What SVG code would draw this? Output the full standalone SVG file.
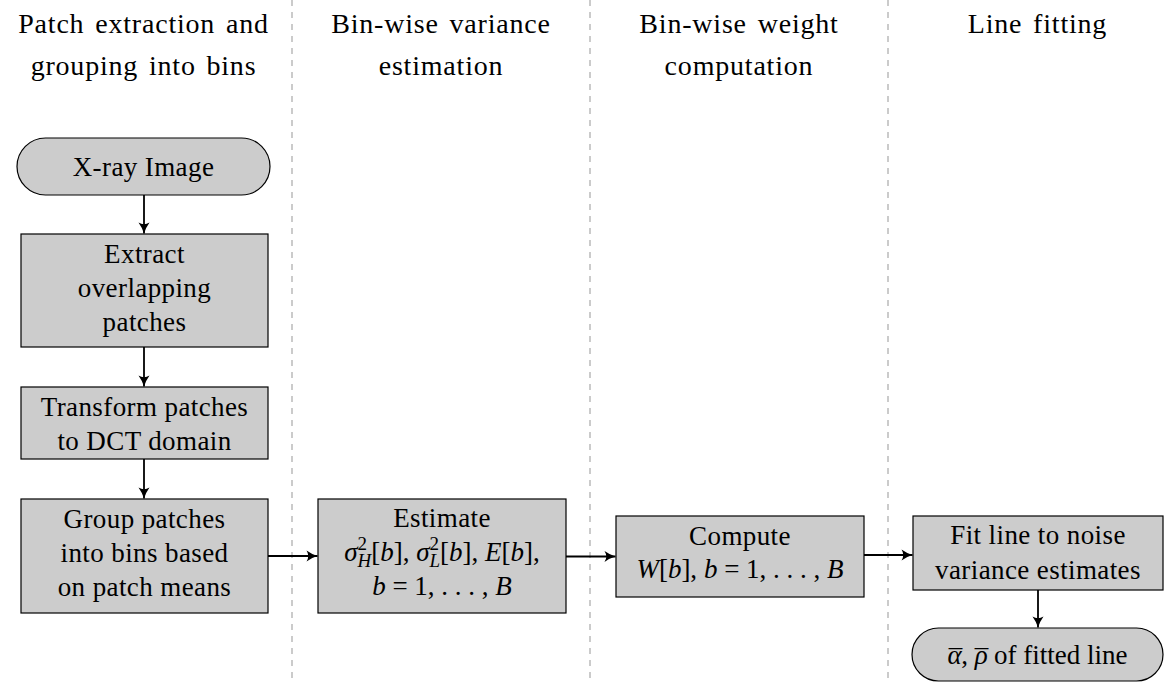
<svg xmlns="http://www.w3.org/2000/svg" width="1164" height="682" viewBox="0 0 1164 682">
<style>
  .box { fill: #cccccc; stroke: #000; stroke-width: 1.2; }
  .sep { stroke: #b0b0b0; stroke-width: 1.3; stroke-dasharray: 6 6; fill: none; }
  .edge { stroke: #000; stroke-width: 1.8; fill: none; marker-end: url(#arr); }
</style>
<defs>
  <marker id="arr" markerUnits="userSpaceOnUse" markerWidth="14" markerHeight="14" viewBox="-12 -7 14 14" refX="0" refY="0" orient="auto">
    <path d="M-11,-5.5 Q-5,-1.3 0,0 Q-5,1.3 -11,5.5 Q-7.5,0 -11,-5.5 Z" fill="#000"/>
  </marker>
</defs>
<rect width="1164" height="682" fill="#fff"/>

<g id="separators">
  <line class="sep" x1="292" y1="0" x2="292" y2="682"/>
  <line class="sep" x1="590" y1="0" x2="590" y2="682"/>
  <line class="sep" x1="888" y1="0" x2="888" y2="682"/>
</g>

<g id="headers" font-family="Liberation Serif" font-size="28" text-anchor="middle" fill="#000" letter-spacing="0.8" word-spacing="3">
  <text x="143.5" y="33">Patch extraction and</text>
  <text x="143.5" y="75">grouping into bins</text>
  <text x="441" y="33">Bin-wise variance</text>
  <text x="441" y="75">estimation</text>
  <text x="739" y="33">Bin-wise weight</text>
  <text x="739" y="75">computation</text>
  <text x="1037.5" y="33">Line fitting</text>
</g>

<g id="connectors">
  <line class="edge" x1="144" y1="195" x2="144" y2="233.5"/>
  <line class="edge" x1="144" y1="347" x2="144" y2="386.5"/>
  <line class="edge" x1="144" y1="459" x2="144" y2="498.5"/>
  <line class="edge" x1="268" y1="556" x2="317.5" y2="556"/>
  <line class="edge" x1="566" y1="556.5" x2="615.5" y2="556.5"/>
  <line class="edge" x1="864" y1="555" x2="912.5" y2="555"/>
  <line class="edge" x1="1038" y1="590" x2="1038" y2="627.5"/>
</g>

<g id="xray" font-family="Liberation Serif" font-size="27" text-anchor="middle" fill="#000" letter-spacing="0.4">
  <rect class="box" x="17" y="138" width="253" height="57" rx="28.5" ry="28.5"/>
  <text x="143.5" y="176">X-ray Image</text>
</g>

<g id="extract" font-family="Liberation Serif" font-size="27" text-anchor="middle" fill="#000" letter-spacing="0.4">
  <rect class="box" x="21" y="234" width="247" height="113"/>
  <text x="144.5" y="263">Extract</text>
  <text x="144.5" y="297">overlapping</text>
  <text x="144.5" y="331">patches</text>
</g>

<g id="transform" font-family="Liberation Serif" font-size="27" text-anchor="middle" fill="#000" letter-spacing="0.4">
  <rect class="box" x="21" y="387" width="247" height="72"/>
  <text x="144.5" y="416">Transform patches</text>
  <text x="144.5" y="450">to DCT domain</text>
</g>

<g id="group" font-family="Liberation Serif" font-size="27" text-anchor="middle" fill="#000" letter-spacing="0.4">
  <rect class="box" x="21" y="499" width="247" height="114"/>
  <text x="144.5" y="528">Group patches</text>
  <text x="144.5" y="562">into bins based</text>
  <text x="144.5" y="596">on patch means</text>
</g>

<g id="estimate" font-family="Liberation Serif" font-size="27" text-anchor="middle" fill="#000">
  <rect class="box" x="318" y="499" width="248" height="114"/>
  <text x="442" y="527" letter-spacing="0.4">Estimate</text>
  <text x="442" y="561"><tspan font-style="italic">σ</tspan><tspan font-size="19" dy="-11">2</tspan><tspan font-size="19" font-style="italic" dx="-9.5" dy="17">H</tspan><tspan dy="-6">[</tspan><tspan font-style="italic">b</tspan>], <tspan font-style="italic">σ</tspan><tspan font-size="19" dy="-11">2</tspan><tspan font-size="19" font-style="italic" dx="-9.5" dy="17">L</tspan><tspan dy="-6">[</tspan><tspan font-style="italic">b</tspan>], <tspan font-style="italic">E</tspan>[<tspan font-style="italic">b</tspan>],</text>
  <text x="442" y="595"><tspan font-style="italic">b</tspan>  =  1, . . . , <tspan font-style="italic">B</tspan></text>
</g>

<g id="compute" font-family="Liberation Serif" font-size="27" text-anchor="middle" fill="#000">
  <rect class="box" x="616" y="516" width="248" height="81"/>
  <text x="740" y="545" letter-spacing="0.4">Compute</text>
  <text x="740" y="578"><tspan font-style="italic">W</tspan>[<tspan font-style="italic">b</tspan>], <tspan font-style="italic">b</tspan> = 1, . . . , <tspan font-style="italic">B</tspan></text>
</g>

<g id="fit" font-family="Liberation Serif" font-size="27" text-anchor="middle" fill="#000" letter-spacing="0.4">
  <rect class="box" x="913" y="516" width="250" height="74"/>
  <text x="1038" y="544">Fit line to noise</text>
  <text x="1038" y="579">variance estimates</text>
</g>

<g id="result" font-family="Liberation Serif" font-size="27" text-anchor="middle" fill="#000">
  <rect class="box" x="912" y="628" width="251" height="53" rx="26.5" ry="26.5"/>
  <text x="1037.5" y="664"><tspan font-style="italic">α</tspan><tspan dx="-13" dy="5">¯</tspan><tspan dx="-1" dy="-5">,</tspan> <tspan font-style="italic">ρ</tspan><tspan dx="-13" dy="5">¯</tspan><tspan dx="-1" dy="-5"> of fitted line</tspan></text>
</g>
</svg>
